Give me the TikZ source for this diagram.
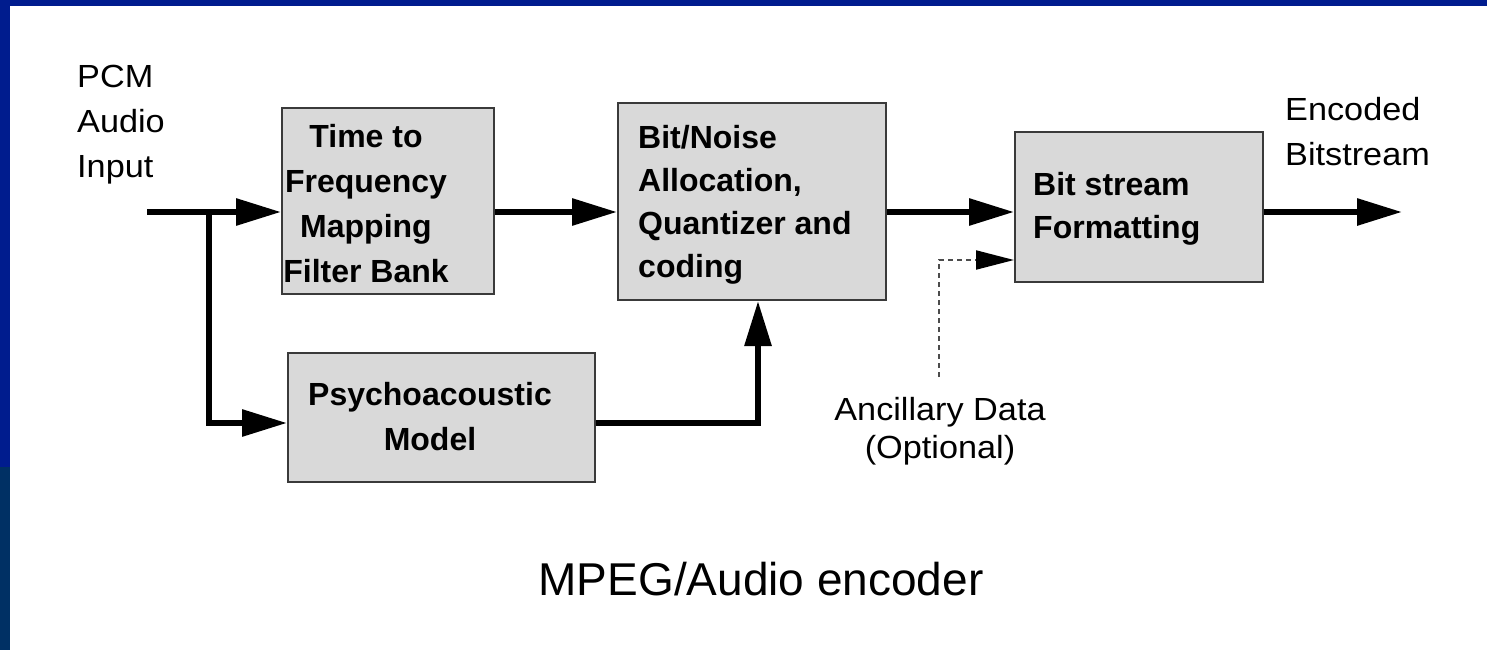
\documentclass[tikz,border=0pt]{standalone}
\usepackage{fontspec}
\setmainfont{Liberation Sans}
\newfontfamily\lblfont[FakeStretch=1.07]{Liberation Sans}
\usetikzlibrary{arrows.meta}
\definecolor{slidenavy}{HTML}{001C8E}
\definecolor{slidedeep}{HTML}{003064}
\definecolor{boxfill}{HTML}{D9D9D9}
\definecolor{boxline}{HTML}{3A3A3A}
\begin{document}
\begin{tikzpicture}[x=1pt,y=-1pt,
  blockbox/.style={draw=boxline,line width=2pt,fill=boxfill,inner sep=0pt},
  boxtxt/.style={inner sep=0pt,font=\bfseries\fontsize{32}{44.7}\selectfont},
  lbltxt/.style={inner sep=0pt,font=\lblfont\fontsize{32}{45}\selectfont},
  flow/.style={line width=6pt,-{Triangle[length=45pt,width=26pt]}},
  anc/.style={line width=2pt,draw=black!70,dash pattern=on 5pt off 4pt,
              -{Triangle[length=38pt,width=19pt,color=black]}}]
  % slide frame
  \useasboundingbox (0,0) rectangle (1487,650);
  \fill[white] (0,0) rectangle (1487,650);
  \fill[slidenavy] (0,0) rectangle (1487,6);
  \fill[slidenavy] (0,0) rectangle (10,467);
  \fill[slidedeep] (0,467) rectangle (10,650);

  % blocks
  \node[blockbox,minimum width=212pt,minimum height=186pt] (tf)  at (388,201)   {};
  \node[blockbox,minimum width=268pt,minimum height=197pt] (bna) at (752,201.5) {};
  \node[blockbox,minimum width=248pt,minimum height=150pt] (bsf) at (1139,207)  {};
  \node[blockbox,minimum width=307pt,minimum height=129pt] (psy) at (441.5,417.5) {};

  % block texts (anchored on the baseline of their last line)
  \node[boxtxt,align=center,anchor=base] (tft) at (366,282)
    {Time to\\Frequency\\Mapping\\Filter Bank};
  \node[boxtxt,align=left,anchor=base west,font=\bfseries\fontsize{32}{43}\selectfont] (bnat) at (638,277)
    {Bit/Noise\\Allocation,\\Quantizer and\\coding};
  \node[boxtxt,align=left,anchor=base west,font=\bfseries\fontsize{32}{43}\selectfont] (bsft) at (1033,238)
    {Bit stream\\Formatting};
  \node[boxtxt,align=center,anchor=base,font=\bfseries\fontsize{32}{45}\selectfont] (psyt) at (430,450)
    {Psychoacoustic\\Model};

  % outer labels
  \node[lbltxt,align=left,anchor=base west] (pcm) at (77,177) {PCM\\Audio\\Input};
  \node[lbltxt,align=left,anchor=base west] (enc) at (1285,165) {Encoded\\Bitstream};
  \node[lbltxt,align=center,anchor=base,font=\lblfont\fontsize{32}{38}\selectfont] (ancl) at (940,458)
    {Ancillary Data\\(Optional)};
  \node[inner sep=0pt,anchor=base,font=\fontsize{46}{50}\selectfont] (title) at (761,595)
    {MPEG/Audio encoder};

  % connectors
  \coordinate (in)  at (147,212);
  \coordinate (br)  at (209,212);
  \coordinate (out) at (1402,212);
  \coordinate (ancsrc) at (939,377);

  \draw[flow] (in) -- (tf.west |- in);
  \draw[flow] (br) |- ([yshift=-5.5pt]psy.west);
  \draw[flow] (tf.east |- in) -- (bna.west |- in);
  \draw[flow] (bna.east |- in) -- (bsf.west |- in);
  \draw[flow] (bsf.east |- in) -- (out);
  \draw[flow] ([yshift=-5.5pt]psy.east) -| ([xshift=6pt]bna.south);
  \draw[anc] (ancsrc) |- ([yshift=-53pt]bsf.west);
\end{tikzpicture}
\end{document}
